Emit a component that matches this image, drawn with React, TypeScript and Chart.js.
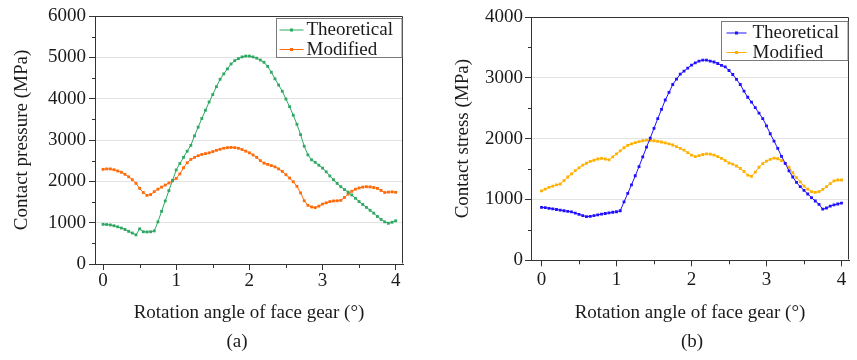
import React, { useEffect, useRef } from 'react';
import { Chart, registerables } from 'chart.js';

Chart.register(...registerables);

// ---------- data ----------
const ANGLE = [
  0, 0.05, 0.1, 0.15, 0.2, 0.25, 0.3, 0.35, 0.4, 0.45,
  0.5, 0.55, 0.6, 0.65, 0.7, 0.75, 0.8, 0.85, 0.9, 0.95,
  1, 1.05, 1.1, 1.15, 1.2, 1.25, 1.3, 1.35, 1.4, 1.45,
  1.5, 1.55, 1.6, 1.65, 1.7, 1.75, 1.8, 1.85, 1.9, 1.95,
  2, 2.05, 2.1, 2.15, 2.2, 2.25, 2.3, 2.35, 2.4, 2.45,
  2.5, 2.55, 2.6, 2.65, 2.7, 2.75, 2.8, 2.85, 2.9, 2.95,
  3, 3.05, 3.1, 3.15, 3.2, 3.25, 3.3, 3.35, 3.4, 3.45,
  3.5, 3.55, 3.6, 3.65, 3.7, 3.75, 3.8, 3.85, 3.9, 3.95,
  4,
];

const PRESSURE_THEORETICAL = [
  960, 955, 945, 925, 900, 870, 835, 790, 750, 705,
  850, 780, 775, 780, 800, 1020, 1275, 1525, 1775, 2025,
  2275, 2430, 2580, 2730, 2870, 3100, 3310, 3520, 3720, 3920,
  4100, 4290, 4469, 4600, 4720, 4840, 4920, 4970, 5010, 5030,
  5030, 5010, 4980, 4935, 4880, 4780, 4640, 4480, 4330, 4180,
  3990, 3806, 3600, 3380, 3130, 2850, 2640, 2520, 2460, 2390,
  2320, 2230, 2130, 2040, 1950, 1870, 1800, 1740, 1670, 1590,
  1510, 1440, 1370, 1300, 1230, 1150, 1080, 1020, 985, 1010,
  1045,
];

const PRESSURE_MODIFIED = [
  2290, 2300, 2300, 2280, 2250, 2220, 2170, 2110, 2040, 1950,
  1830, 1730, 1660, 1680, 1750, 1810, 1860, 1910, 1960, 2010,
  2070, 2180, 2330, 2450, 2530, 2580, 2620, 2650, 2670, 2690,
  2720, 2750, 2775, 2800, 2815, 2820, 2815, 2800, 2770, 2730,
  2690, 2640, 2580, 2500, 2440, 2410, 2380, 2350, 2300, 2240,
  2160, 2080, 1990, 1880, 1720, 1530, 1420, 1380, 1365, 1400,
  1450, 1480, 1510, 1525, 1530, 1540, 1610, 1690, 1760, 1810,
  1840, 1860, 1870, 1865, 1850, 1830, 1780, 1730, 1740, 1745,
  1735,
];

const STRESS_THEORETICAL = [
  870, 865, 855, 845, 835, 825, 815, 805, 795, 775,
  755, 735, 718, 722, 735, 748, 760, 770, 780, 790,
  798, 815, 960, 1100, 1240, 1390, 1540, 1700, 1860, 2010,
  2170, 2330, 2480, 2635, 2760, 2890, 2980, 3060, 3110, 3160,
  3210, 3245, 3275, 3290, 3290, 3275, 3260, 3235, 3205, 3180,
  3120, 3055, 2975, 2890, 2780, 2680, 2600, 2510, 2420, 2330,
  2210, 2080, 1960, 1840, 1710, 1594, 1470, 1370, 1280, 1210,
  1150, 1090, 1030, 975, 920, 840, 860, 890, 910, 925,
  940,
];

const STRESS_MODIFIED = [
  1140, 1170, 1200, 1220, 1240, 1255, 1310, 1370, 1420, 1473,
  1520, 1565, 1595, 1625, 1645, 1665, 1675, 1665, 1650, 1700,
  1750, 1800, 1850, 1890, 1915, 1935, 1950, 1965, 1975, 1970,
  1965, 1955, 1945, 1930, 1915, 1895, 1870, 1840, 1810, 1770,
  1730, 1705, 1720, 1740, 1750, 1745, 1730, 1705, 1675, 1640,
  1600, 1580, 1550, 1510, 1460, 1400, 1380, 1450, 1530, 1590,
  1630, 1660, 1680, 1670, 1640, 1594, 1530, 1440, 1360, 1290,
  1220, 1170, 1130, 1118, 1130, 1165, 1210, 1260, 1305, 1320,
  1320,
];

const SERIES_LABELS = ['Theoretical', 'Modified'];
const X_TICKS = [0, 1, 2, 3, 4];
const PRESSURE_TICKS = [0, 1000, 2000, 3000, 4000, 5000, 6000];
const STRESS_TICKS = [0, 1000, 2000, 3000, 4000];
const X_TITLE = 'Rotation angle of face gear (°)';

// ---------- styling ----------
const FAMILY = '"Liberation Serif", "Times New Roman", serif';
const FONT = { family: FAMILY, size: 19 };
const TXT = '#1a1a1a';
const AXIS = '#333333';
const GRID = '#e3e3e3';

const mids = (arr: number[]) => arr.slice(1).map((v, i) => (v + arr[i]) / 2);

const framePlugin = {
  id: 'frame',
  afterDraw(chart: any) {
    const { ctx, chartArea } = chart;
    const l = Math.round(chartArea.left) + 0.5;
    const r = Math.round(chartArea.right) - 0.5;
    const t = Math.round(chartArea.top) + 0.5;
    const b = Math.round(chartArea.bottom) - 0.5;
    ctx.save();
    ctx.strokeStyle = AXIS;
    ctx.lineWidth = 1;
    ctx.beginPath();
    ctx.moveTo(l, t);
    ctx.lineTo(r, t);
    ctx.lineTo(r, b);
    ctx.stroke();
    // minor ticks
    const xs = chart.scales.x;
    const ys = chart.scales.y;
    ctx.beginPath();
    mids(xs.ticks.map((tk: any) => tk.value)).forEach((v) => {
      const px = Math.round(xs.getPixelForValue(v)) + 0.5;
      ctx.moveTo(px, chartArea.bottom);
      ctx.lineTo(px, chartArea.bottom + 4);
    });
    mids(ys.ticks.map((tk: any) => tk.value)).forEach((v) => {
      const py = Math.round(ys.getPixelForValue(v)) + 0.5;
      ctx.moveTo(chartArea.left - 3, py);
      ctx.lineTo(chartArea.left, py);
    });
    ctx.stroke();
    ctx.restore();
  },
};

const legendPlugin = {
  id: 'boxLegend',
  afterDraw(chart: any, _args: any, opts: any) {
    const { ctx, chartArea } = chart;
    ctx.save();
    ctx.font = `19px ${FAMILY}`;
    const items = chart.data.datasets.map((d: any) => ({ label: d.label, color: d.borderColor }));
    const textW = Math.max(...items.map((i: any) => ctx.measureText(i.label).width));
    const w = opts.padL + opts.lineW + opts.gap + textW + opts.padR;
    const h = 39;
    const x = Math.round(chartArea.right - opts.dxRight - w) + 0.5;
    const y = Math.round(chartArea.top + opts.dy) + 0.5;
    ctx.fillStyle = '#ffffff';
    ctx.fillRect(x, y, w, h);
    ctx.strokeStyle = '#7a7a7a';
    ctx.lineWidth = 1;
    ctx.strokeRect(x, y, w, h);
    items.forEach((it: any, i: number) => {
      const cy = y + 11.5 + i * 19.5;
      const x0 = x + opts.padL;
      ctx.strokeStyle = it.color;
      ctx.beginPath();
      ctx.moveTo(x0, cy);
      ctx.lineTo(x0 + opts.lineW, cy);
      ctx.stroke();
      ctx.fillStyle = it.color;
      ctx.fillRect(x0 + opts.lineW / 2 - 1.5, cy - 1.5, 3, 3);
      ctx.fillStyle = TXT;
      ctx.textAlign = 'left';
      ctx.textBaseline = 'middle';
      ctx.fillText(it.label, x0 + opts.lineW + opts.gap, cy + 0.5);
    });
    ctx.restore();
  },
};

const captionPlugin = {
  id: 'caption',
  afterDraw(chart: any, _args: any, opts: any) {
    const { ctx, chartArea } = chart;
    ctx.save();
    ctx.font = `19px ${FAMILY}`;
    ctx.fillStyle = TXT;
    ctx.textAlign = 'center';
    ctx.textBaseline = 'middle';
    ctx.fillText(opts.text, (chartArea.left + chartArea.right) / 2 + opts.dx, opts.y);
    ctx.restore();
  },
};

type Spec = {
  theoretical: number[];
  modified: number[];
  colors: string[];
  yTicks: number[];
  yTitle: string;
  xMin: number;
  xMax: number;
  padding: { left: number; top: number; right: number; bottom: number };
  yWidth: number;
  xHeight: number;
  yTitlePad: number;
  yTickPad: number;
  xTickPad: number;
  caption: { text: string; dx: number; y: number };
  legend: any;
};

function makeConfig(s: Spec): any {
  const yMax = s.yTicks[s.yTicks.length - 1];
  const series = [s.theoretical, s.modified];
  return {
    type: 'line',
    data: {
      datasets: series.map((vals, i) => ({
        label: SERIES_LABELS[i],
        data: ANGLE.map((a, k) => ({ x: a, y: vals[k] })),
        borderColor: s.colors[i],
        backgroundColor: s.colors[i],
        borderWidth: 1,
        pointStyle: 'rect',
        pointRadius: 2,
        pointBorderWidth: 0,
        pointBackgroundColor: s.colors[i],
        tension: 0,
      })),
    },
    options: {
      animation: false,
      responsive: true,
      maintainAspectRatio: false,
      layout: { padding: s.padding },
      plugins: {
        legend: { display: false },
        tooltip: { enabled: false },
        boxLegend: s.legend,
        caption: s.caption,
      },
      scales: {
        x: {
          type: 'linear',
          min: s.xMin,
          max: s.xMax,
          afterBuildTicks: (sc: any) => {
            sc.ticks = X_TICKS.map((v) => ({ value: v }));
          },
          afterFit: (sc: any) => {
            sc.height = s.xHeight;
          },
          ticks: {
            color: TXT,
            font: FONT,
            padding: s.xTickPad,
            maxRotation: 0,
            autoSkip: false,
            callback: (v: any) => String(v),
          },
          grid: { drawOnChartArea: false, drawTicks: true, tickLength: 6, tickColor: AXIS, color: AXIS },
          border: { display: true, color: AXIS, width: 1 },
          title: {
            display: true,
            text: X_TITLE,
            color: TXT,
            font: FONT,
            padding: { top: 0, bottom: 35.6 },
          },
        },
        y: {
          type: 'linear',
          min: 0,
          max: yMax,
          afterBuildTicks: (sc: any) => {
            sc.ticks = s.yTicks.map((v) => ({ value: v }));
          },
          afterFit: (sc: any) => {
            sc.width = s.yWidth;
          },
          ticks: {
            color: TXT,
            font: FONT,
            padding: s.yTickPad,
            callback: (v: any) => String(v),
          },
          grid: {
            drawOnChartArea: true,
            drawTicks: true,
            tickLength: 6,
            tickColor: AXIS,
            color: (ctx: any) =>
              ctx.tick && ctx.tick.value > 0 && ctx.tick.value < yMax ? GRID : 'rgba(0,0,0,0)',
          },
          border: { display: true, color: AXIS, width: 1 },
          title: {
            display: true,
            text: s.yTitle,
            color: TXT,
            font: FONT,
            padding: { top: s.yTitlePad, bottom: 0 },
          },
        },
      },
    },
    plugins: [framePlugin, legendPlugin, captionPlugin],
  };
}

const SPEC_A: Spec = {
  theoretical: PRESSURE_THEORETICAL,
  modified: PRESSURE_MODIFIED,
  colors: ['#2ea862', '#ff6a0a'],
  yTicks: PRESSURE_TICKS,
  yTitle: 'Contact pressure (MPa)',
  xMin: -0.11,
  xMax: 4.1,
  padding: { left: 0, top: 16, right: 27, bottom: 0 },
  yWidth: 95,
  xHeight: 96,
  yTitlePad: 10.6,
  yTickPad: 3,
  xTickPad: 0,
  caption: { text: '(a)', dx: -12, y: 342 },
  legend: { padL: 3, lineW: 24, gap: 3, padR: 9, dxRight: 1, dy: 2 },
};

const SPEC_B: Spec = {
  theoretical: STRESS_THEORETICAL,
  modified: STRESS_MODIFIED,
  colors: ['#2010ff', '#ffb000'],
  yTicks: STRESS_TICKS,
  yTitle: 'Contact stress (MPa)',
  xMin: -0.14,
  xMax: 4.1,
  padding: { left: 0, top: 17, right: 8, bottom: 0 },
  yWidth: 101,
  xHeight: 99.7,
  yTitlePad: 21.6,
  yTickPad: 2,
  xTickPad: 2,
  caption: { text: '(b)', dx: 2, y: 342.5 },
  legend: { padL: 5, lineW: 20, gap: 6, padR: 9, dxRight: 1, dy: 4 },
};

function Panel({ left, width, spec }: { left: number; width: number; spec: Spec }) {
  const ref = useRef<HTMLCanvasElement | null>(null);
  useEffect(() => {
    if (!ref.current) return;
    const chart = new Chart(ref.current, makeConfig(spec));
    return () => chart.destroy();
  }, [spec]);
  return (
    <div style={{ position: 'absolute', left, top: 0, width, height: 360 }}>
      <canvas ref={ref} />
    </div>
  );
}

export default function App() {
  return (
    <div
      style={{
        position: 'fixed',
        left: 0,
        top: 0,
        width: 857,
        height: 360,
        background: '#ffffff',
        overflow: 'hidden',
      }}
    >
      <Panel left={0} width={430} spec={SPEC_A} />
      <Panel left={430} width={427} spec={SPEC_B} />
    </div>
  );
}
